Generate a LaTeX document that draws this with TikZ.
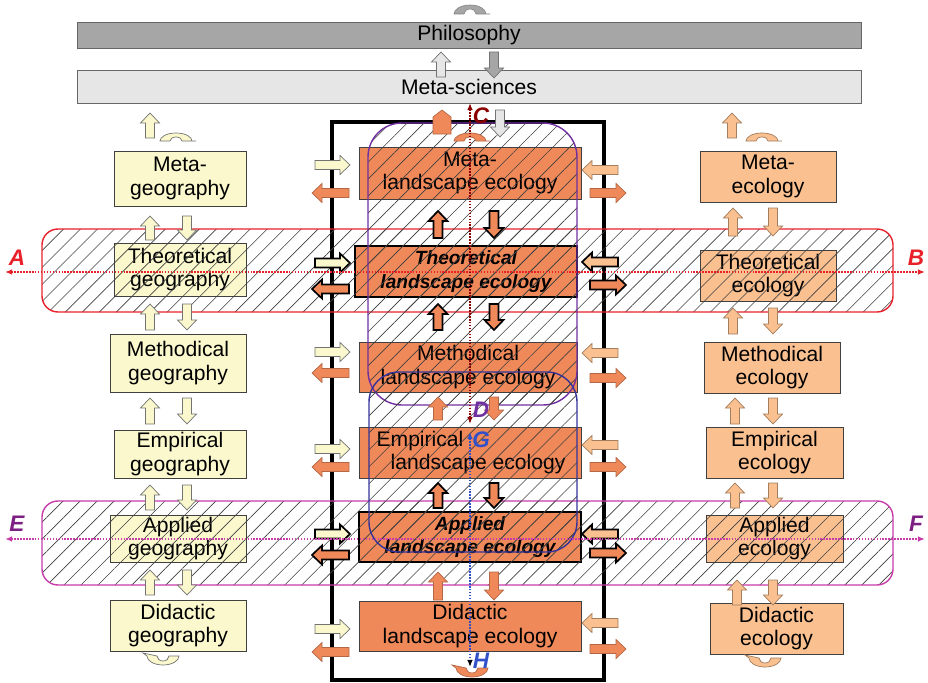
\documentclass[tikz,border=0pt]{standalone}
\usepackage{fontspec}
\setmainfont{Liberation Sans}
\usetikzlibrary{arrows.meta,patterns.meta}
\definecolor{cOr}{RGB}{240,137,90}
\definecolor{cLo}{RGB}{250,192,144}
\definecolor{cYe}{RGB}{250,248,204}
\definecolor{cGr}{RGB}{166,166,166}
\definecolor{cLg}{RGB}{230,230,230}
\definecolor{cRed}{RGB}{232,32,42}
\definecolor{cMag}{RGB}{200,60,170}
\definecolor{cPur}{RGB}{112,48,160}
\definecolor{cBlu}{RGB}{51,51,153}
\definecolor{cDred}{RGB}{139,0,0}
\definecolor{cLab}{RGB}{125,30,130}
\definecolor{cGlab}{RGB}{50,80,200}
% block arrow: [style]{tail x,y}{angle}{length}
\newcommand\barr[4][]{\filldraw[#1,shift={(#2)},rotate=#3] (0,-4.5) -- ({#4-10},-4.5) -- ({#4-10},-9.5) -- (#4,0) -- ({#4-10},9.5) -- ({#4-10},4.5) -- (0,4.5) -- cycle;}
% arch arrow (opening downwards)
\newcommand\uarc[4][]{\filldraw[#1] ({#2-16},#3) arc[start angle=180,end angle=360,x radius=16,y radius=#4] -- ({#2+20},#3) -- ({#2+6},#3) arc[start angle=360,end angle=180,x radius=6,y radius={#4-4}] -- cycle;}
% smile arrow (opening upwards)
\newcommand\darc[4][]{\filldraw[#1] ({#2+16},#3) arc[start angle=0,end angle=180,x radius=16,y radius=#4] -- ({#2-20},{#3-3}) -- ({#2-6},#3) arc[start angle=180,end angle=0,x radius=6,y radius={#4-4}] -- cycle;}
\begin{document}
\begin{tikzpicture}[x=0.025cm,y=-0.025cm,
  sz/.style 2 args={minimum width=#1*0.025cm, minimum height=#2*0.025cm},
  box/.style={draw=black!75, line width=0.6pt, inner sep=0pt, align=center, font=\fontsize{15}{16.5}\selectfont},
  gbox/.style={box, fill=cYe},
  obox/.style={box, fill=cOr},
  lbox/.style={box, fill=cLo},
  kbox/.style={box, fill=cOr, draw=black, line width=1.3pt, font=\fontsize{13.6}{16.5}\selectfont\bfseries\itshape},
  hatch/.style={pattern={Lines[angle=45,distance=0.3cm,line width=0.45pt]}, pattern color=black!75, line width=1pt, inner sep=0pt},
  lab/.style={font=\fontsize{16}{16}\selectfont\bfseries\itshape, inner sep=0pt},
  ya/.style={fill=cYe, draw=black!55, line width=0.5pt},
  oa/.style={fill=cOr, draw=cOr!75!black, line width=0.5pt},
  la/.style={fill=cLo, draw=cLo!65!black, line width=0.5pt},
  ok/.style={fill=cOr, draw=black, line width=1.2pt},
  yk/.style={fill=cYe, draw=black, line width=1.2pt},
  lk/.style={fill=cLo, draw=black, line width=1.2pt},
  dots/.style={densely dotted, line width=1.1pt}]
\useasboundingbox (0,0) rectangle (928,683);

% top boxes
\node[box, fill=cGr, draw=black!60, sz={784}{26}] (phil) at (469,35) {Philosophy};
\node[box, fill=cLg, draw=black!60, sz={784}{33}] (msci) at (469,86.5) {Meta-sciences};

% frame
\node[draw, line width=2.2pt, sz={272}{558}, inner sep=0pt] (frame) at (468,401) {};

% left column
\node[gbox, sz={132}{55}] (mg) at (180,178.5) {Meta-\\geography};
\node[gbox, sz={132}{53}] (tg) at (180,269.5) {Theoretical\\geography};
\node[gbox, sz={136}{58}] (methg) at (178,363) {Methodical\\geography};
\node[gbox, sz={132}{48}] (eg) at (180,454) {Empirical\\geography};
\node[gbox, sz={136}{47}] (ag) at (178,538.5) {Applied\\geography};
\node[gbox, sz={136}{51}] (dg) at (178,625.5) {Didactic\\geography};

% center column
\node[obox, sz={222}{52}] (ml) at (470,173) {Meta-\\landscape ecology};
\node[kbox, sz={222}{51}] (tl) at (466,271.5) {Theoretical\\landscape ecology};
\node[obox, sz={218}{50}] (mthl) at (468,367) {Methodical\\landscape ecology};
\node[obox, sz={222}{51}] (el) at (470,452.5) {Empirical\rule{2.5cm}{0pt}\\\rule{0.4cm}{0pt}landscape ecology};
\node[kbox, sz={222}{50}] (al) at (470,537) {Applied\\landscape ecology};
\node[obox, sz={222}{50}] (dl) at (470,626) {Didactic\\landscape ecology};

% right column
\node[lbox, sz={136}{51}] (me) at (768,176.5) {Meta-\\ecology};
\node[lbox, sz={136}{51}] (te) at (768,275.5) {Theoretical\\ecology};
\node[lbox, sz={136}{51}] (mthe) at (772,367.5) {Methodical\\ecology};
\node[lbox, sz={137}{51}] (ee) at (774.5,452.5) {Empirical\\ecology};
\node[lbox, sz={137}{47}] (ae) at (774.5,538.5) {Applied\\ecology};
\node[lbox, sz={133}{51}] (de) at (776.5,628.5) {Didactic\\ecology};

% hatched regions
\node[hatch, draw=cRed, rounded corners=0.4cm, sz={851}{83}] (bandAB) at (467.5,270.5) {};
\node[hatch, draw=cMag, rounded corners=0.4cm, sz={851}{84}] (bandEF) at (467.5,543) {};
\node[hatch, draw=cPur, rounded corners=0.85cm, sz={209}{282}] (rCD) at (472.5,264) {};
\node[hatch, draw=cBlu, rounded corners=0.75cm, sz={208}{180}] (rGH) at (473,462) {};

% Philosophy / Meta-sciences arrows
\uarc[fill=cGr, draw=black!50, line width=0.4pt]{470}{14}{9}
\barr[fill=cLg, draw=black!55, line width=0.5pt]{441,77}{90}{25}
\barr[fill=cGr, draw=black!55, line width=0.5pt]{494,52}{270}{26}

% top of frame
\filldraw[fill=cOr, draw=cOr!75!black, line width=0.5pt] (433,134) -- (433,117) -- (442,110) -- (451,117) -- (451,134) -- cycle;
\barr[fill=cLg, draw=black!55, line width=0.5pt]{500,110}{270}{27}
\uarc[oa]{470}{141}{8}
\darc[oa]{472}{668}{9}

% left column arrows
\barr[ya]{150,138}{90}{25}
\uarc[ya]{176}{141}{8}
\barr[ya]{150,240}{90}{24} \barr[ya]{187,216}{270}{24}
\barr[ya]{150,330}{90}{26} \barr[ya]{187,304}{270}{26}
\barr[ya]{150,424}{90}{26} \barr[ya]{187,398}{270}{26}
\barr[ya]{150,510}{90}{25} \barr[ya]{187,485}{270}{25}
\barr[ya]{150,595}{90}{25} \barr[ya]{187,570}{270}{25}
\darc[ya]{163}{656}{9}

% right column arrows
\barr[la]{732,138}{90}{25}
\uarc[la]{762}{141}{8}
\barr[la]{733,236}{90}{28} \barr[la]{773,208}{270}{28}
\barr[la]{733,334}{90}{26} \barr[la]{773,308}{270}{26}
\barr[la]{735,424}{90}{26} \barr[la]{773,398}{270}{26}
\barr[la]{735,508}{90}{25} \barr[la]{773,483}{270}{25}
\barr[la]{737,605}{90}{25} \barr[la]{773,580}{270}{25}
\darc[la]{765}{658}{9}

% center column arrows
\barr[ok]{438,238}{90}{27} \barr[ok]{494,211}{270}{27}
\barr[ok]{438,330}{90}{26} \barr[ok]{494,304}{270}{26}
\barr[oa]{438,420}{90}{23} \barr[oa]{494,397}{270}{23}
\barr[ok]{438,508}{90}{25} \barr[ok]{494,483}{270}{25}
\barr[oa]{438,600}{90}{28} \barr[oa]{494,572}{270}{28}

% side arrows left of frame
\barr[ya]{315,165}{0}{35} \barr[oa]{349,193}{180}{37}
\barr[yk]{315,263}{0}{35} \barr[ok]{349,289}{180}{37}
\barr[ya]{315,352}{0}{35} \barr[oa]{349,373}{180}{37}
\barr[ya]{315,449}{0}{35} \barr[oa]{349,467}{180}{37}
\barr[yk]{315,534}{0}{35} \barr[ok]{349,555}{180}{37}
\barr[ya]{315,629}{0}{35} \barr[oa]{349,652}{180}{37}

% side arrows right of frame
\barr[la]{618,170}{180}{36} \barr[oa]{590,193}{0}{36}
\barr[lk]{618,262}{180}{36} \barr[ok]{590,285}{0}{36}
\barr[la]{618,353}{180}{36} \barr[oa]{590,378}{0}{36}
\barr[la]{618,445}{180}{36} \barr[oa]{590,467}{0}{36}
\barr[lk]{618,534}{180}{36} \barr[ok]{590,553}{0}{36}
\barr[la]{618,623}{180}{36} \barr[oa]{590,649}{0}{36}

% axes
\coordinate (pA) at (5,272); \coordinate (pB) at (925,272);
\coordinate (pE) at (5,539); \coordinate (pF) at (925,539);
\coordinate (pC) at (470,103); \coordinate (pD) at (470,424);
\coordinate (pG) at (470,432); \coordinate (pH) at (470,667);
\draw[dots, cRed, {Latex[length=5pt,width=4pt]}-{Latex[length=5pt,width=4pt]}] (pA) -- (pB);
\draw[dots, cMag, {Latex[length=5pt,width=4pt]}-{Latex[length=5pt,width=4pt]}] (pE) -- (pF);
\draw[dots, cDred, {Latex[length=5pt,width=4pt]}-{Latex[length=5pt,width=4pt]}] (pC) -- (pD);
\draw[dots, cGlab, {Latex[length=5pt,width=4pt]}-{Latex[length=5pt,width=4pt,black]}] (pG) -- (pH);

% labels
\node[lab, text=cRed] (lA) at (17,258) {A};
\node[lab, text=cRed] (lB) at (916,258) {B};
\node[lab, text=cDred] (lC) at (481,116) {C};
\node[lab, text=cPur] (lD) at (481,410) {D};
\node[lab, text=cLab] (lE) at (17,524) {E};
\node[lab, text=cLab] (lF) at (916,524) {F};
\node[lab, text=cGlab] (lG) at (481,440) {G};
\node[lab, text=cGlab] (lH) at (481,661) {H};
\end{tikzpicture}
\end{document}
